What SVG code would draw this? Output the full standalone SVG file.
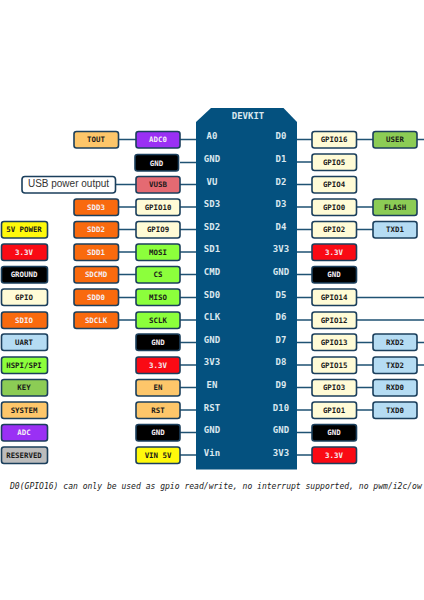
<svg xmlns="http://www.w3.org/2000/svg" width="424" height="600" viewBox="0 0 424 600">
<style>
rect.b{stroke:#1b3f5c;stroke-width:1.6;rx:2.5px;ry:2.5px}
text{font-family:"DejaVu Sans Mono","Liberation Mono",monospace;font-weight:700;font-size:7.4px;text-anchor:middle;dominant-baseline:central}
.d{fill:#1a1a1a}.w{fill:#f4eef4}
.c{fill:#dbe8ef;font-size:9px}
#connectors path{stroke:#1f5273;stroke-width:1.3;fill:none}
.y{fill:#fffbd6}.o{fill:#f96a0e}.g{fill:#8cff3c}.k{fill:#000}.r{fill:#fa0a14}.s{fill:#fdc66a}.u{fill:#b5dcf3}.e{fill:#8ccc55}.p{fill:#9a30f4}.v{fill:#fff90c}
</style>
<g id="connectors">
<path d="M118 139.5H136M180 139.5H197M180 162.5H197M116 184.5H136M180 184.5H197M118 207H136M180 207H197M118 229.5H136M180 229.5H197M118 252H136M180 252H197M118 274.5H136M180 274.5H197M118 297.5H136M180 297.5H197M118 320H136M180 320H197M180 342.5H197M180 365H197M180 387.5H197M180 410H197M180 432.5H197M180 455H197"/>
<path d="M296 139.5H312M357 139.5H373M417 139.5H424M296 162H312M296 184.5H312M296 207H312M357 207H373M296 229.5H312M357 229.5H373M296 252H312M296 274.5H312M296 297.5H312M357 297.5H424M296 320H312M357 320H424M296 342.5H312M357 342.5H373M417 342.5H424M296 365H312M357 365H373M417 365H424M296 387.5H312M357 387.5H373M296 410H312M357 410H373M296 432.5H312M296 455H312"/>
</g>
<g id="chip">
<path d="M196 122L211 108H283.500L297 122V469.500H196Z" fill="#04517f"/>
<text class="c" x="248" y="115.500">DEVKIT</text>
<text class="c" x="212" y="136">A0</text><text class="c" x="212" y="158.500">GND</text><text class="c" x="212" y="181.500">VU</text><text class="c" x="212" y="204">SD3</text><text class="c" x="212" y="226.500">SD2</text><text class="c" x="212" y="249">SD1</text><text class="c" x="212" y="271.500">CMD</text><text class="c" x="212" y="294.500">SD0</text><text class="c" x="212" y="317">CLK</text><text class="c" x="212" y="339.500">GND</text><text class="c" x="212" y="362">3V3</text><text class="c" x="212" y="385">EN</text><text class="c" x="212" y="407.500">RST</text><text class="c" x="212" y="430">GND</text><text class="c" x="212" y="452.500">Vin</text>
<text class="c" x="281" y="136">D0</text><text class="c" x="281" y="158.500">D1</text><text class="c" x="281" y="181.500">D2</text><text class="c" x="281" y="204">D3</text><text class="c" x="281" y="226.500">D4</text><text class="c" x="281" y="249">3V3</text><text class="c" x="281" y="271.500">GND</text><text class="c" x="281" y="294.500">D5</text><text class="c" x="281" y="317">D6</text><text class="c" x="281" y="339.500">D7</text><text class="c" x="281" y="362">D8</text><text class="c" x="281" y="385">D9</text><text class="c" x="281" y="407.500">D10</text><text class="c" x="281" y="430">GND</text><text class="c" x="281" y="452.500">3V3</text>
</g>
<g id="tout"><rect class="b s" x="74" y="131.500" width="44.500" height="16.500"/><text class="d" x="96" y="139">TOUT</text></g>
<g id="adc0"><rect class="b p" x="136" y="131.500" width="44" height="16.500"/><text class="w" x="158" y="139">ADC0</text></g>
<g id="gnd-l1"><rect class="b k" x="135" y="154.500" width="43.500" height="16.500"/><text class="w" x="156.500" y="163">GND</text></g>
<g id="usb"><rect x="22" y="176.500" width="93.500" height="16.500" rx="3" fill="#fff" stroke="#1b3f5c" stroke-width="1.600"/><text x="68.500" y="183.500" style="font-family:'Liberation Sans',Arial,sans-serif;font-weight:400;font-size:10px" fill="#333">USB power output</text></g>
<g id="vusb"><rect class="b" fill="#e46a72" x="136" y="176.500" width="44" height="16.500"/><text class="d" x="158" y="184.500">VUSB</text></g>
<g id="sdd3"><rect class="b o" x="74" y="199" width="44.500" height="16.500"/><text class="w" x="96" y="207">SDD3</text></g>
<g id="gpio10"><rect class="b y" x="136" y="199" width="44" height="16.500"/><text class="d" x="158" y="207">GPIO10</text></g>
<g id="sdd2"><rect class="b o" x="74" y="221.500" width="44.500" height="16.500"/><text class="w" x="96" y="229.500">SDD2</text></g>
<g id="gpio9"><rect class="b y" x="136" y="221.500" width="44" height="16.500"/><text class="d" x="158" y="229.500">GPIO9</text></g>
<g id="sdd1"><rect class="b o" x="74" y="244" width="44.500" height="16.500"/><text class="w" x="96" y="252">SDD1</text></g>
<g id="mosi"><rect class="b g" x="136" y="244" width="44" height="16.500"/><text class="d" x="158" y="252">MOSI</text></g>
<g id="sdcmd"><rect class="b o" x="74" y="266.500" width="44.500" height="16.500"/><text class="w" x="96" y="274.500">SDCMD</text></g>
<g id="cs"><rect class="b g" x="136" y="266.500" width="44" height="16.500"/><text class="d" x="158" y="274.500">CS</text></g>
<g id="sdd0"><rect class="b o" x="74" y="289" width="44.500" height="16.500"/><text class="w" x="96" y="297.500">SDD0</text></g>
<g id="miso"><rect class="b g" x="136" y="289" width="44" height="16.500"/><text class="d" x="158" y="297.500">MISO</text></g>
<g id="sdclk"><rect class="b o" x="74" y="312" width="44.500" height="16.500"/><text class="w" x="96" y="320">SDCLK</text></g>
<g id="sclk"><rect class="b g" x="136" y="312" width="44" height="16.500"/><text class="d" x="158" y="320">SCLK</text></g>
<g id="gnd-l2"><rect class="b k" x="136" y="334" width="44" height="16.500"/><text class="w" x="158" y="342.500">GND</text></g>
<g id="v33-l"><rect class="b r" x="136" y="357" width="44" height="16.500"/><text class="w" x="158" y="365">3.3V</text></g>
<g id="en"><rect class="b s" x="136" y="379.500" width="44" height="16.500"/><text class="d" x="158" y="387.500">EN</text></g>
<g id="rst"><rect class="b s" x="136" y="402" width="44" height="16.500"/><text class="d" x="158" y="410">RST</text></g>
<g id="gnd-l3"><rect class="b k" x="136" y="424.500" width="44" height="16.500"/><text class="w" x="158" y="432.500">GND</text></g>
<g id="vin"><rect class="b v" x="136" y="447" width="44" height="16.500"/><text class="d" x="158" y="455">VIN 5V</text></g>
<g id="gpio16"><rect class="b y" x="312" y="131.500" width="44.500" height="16.500"/><text class="d" x="334" y="139">GPIO16</text></g>
<g id="user"><rect class="b e" x="373" y="131.500" width="44" height="16.500"/><text class="d" x="395" y="139">USER</text></g>
<g id="gpio5"><rect class="b y" x="312" y="154" width="44.500" height="16.500"/><text class="d" x="334" y="162">GPIO5</text></g>
<g id="gpio4"><rect class="b y" x="312" y="176.500" width="44.500" height="16.500"/><text class="d" x="334" y="184.500">GPIO4</text></g>
<g id="gpio0"><rect class="b y" x="312" y="199" width="44.500" height="16.500"/><text class="d" x="334" y="207">GPIO0</text></g>
<g id="flash"><rect class="b e" x="373" y="199" width="44" height="16.500"/><text class="d" x="395" y="207">FLASH</text></g>
<g id="gpio2"><rect class="b y" x="312" y="221.500" width="44.500" height="16.500"/><text class="d" x="334" y="229.500">GPIO2</text></g>
<g id="txd1"><rect class="b u" x="373" y="221.500" width="44" height="16.500"/><text class="d" x="395" y="229.500">TXD1</text></g>
<g id="v33-r1"><rect class="b r" x="312" y="244" width="44.500" height="16.500"/><text class="w" x="334" y="252">3.3V</text></g>
<g id="gnd-r1"><rect class="b k" x="312" y="266.500" width="44.500" height="16.500"/><text class="w" x="334" y="274.500">GND</text></g>
<g id="gpio14"><rect class="b y" x="312" y="289" width="44.500" height="16.500"/><text class="d" x="334" y="297.500">GPIO14</text></g>
<g id="gpio12"><rect class="b y" x="312" y="312" width="44.500" height="16.500"/><text class="d" x="334" y="320">GPIO12</text></g>
<g id="gpio13"><rect class="b y" x="312" y="334" width="44.500" height="16.500"/><text class="d" x="334" y="342.500">GPIO13</text></g>
<g id="rxd2"><rect class="b u" x="373" y="334" width="44" height="16.500"/><text class="d" x="395" y="342.500">RXD2</text></g>
<g id="gpio15"><rect class="b y" x="312" y="357" width="44.500" height="16.500"/><text class="d" x="334" y="365">GPIO15</text></g>
<g id="txd2"><rect class="b u" x="373" y="357" width="44" height="16.500"/><text class="d" x="395" y="365">TXD2</text></g>
<g id="gpio3"><rect class="b y" x="312" y="379.500" width="44.500" height="16.500"/><text class="d" x="334" y="387.500">GPIO3</text></g>
<g id="rxd0"><rect class="b u" x="373" y="379.500" width="44" height="16.500"/><text class="d" x="395" y="387.500">RXD0</text></g>
<g id="gpio1"><rect class="b y" x="312" y="402" width="44.500" height="16.500"/><text class="d" x="334" y="410">GPIO1</text></g>
<g id="txd0"><rect class="b u" x="373" y="402" width="44" height="16.500"/><text class="d" x="395" y="410">TXD0</text></g>
<g id="gnd-r2"><rect class="b k" x="312" y="424.500" width="44.500" height="16.500"/><text class="w" x="334" y="432.500">GND</text></g>
<g id="v33-r2"><rect class="b r" x="312" y="447" width="44.500" height="16.500"/><text class="w" x="334" y="455">3.3V</text></g>
<g id="leg-5v"><rect class="b v" x="1.500" y="221.500" width="46" height="16.500"/><text class="d" x="24" y="229.500">5V POWER</text></g>
<g id="leg-33"><rect class="b r" x="1.500" y="244" width="46" height="16.500"/><text class="w" x="24" y="252">3.3V</text></g>
<g id="leg-gnd"><rect class="b k" x="1.500" y="266.500" width="46" height="16.500"/><text class="w" x="24" y="274.500">GROUND</text></g>
<g id="leg-gpio"><rect class="b y" x="1.500" y="289" width="46" height="16.500"/><text class="d" x="24" y="297.500">GPIO</text></g>
<g id="leg-sdio"><rect class="b o" x="1.500" y="312" width="46" height="16.500"/><text class="w" x="24" y="320">SDIO</text></g>
<g id="leg-uart"><rect class="b u" x="1.500" y="334" width="46" height="16.500"/><text class="d" x="24" y="342.500">UART</text></g>
<g id="leg-spi"><rect class="b g" x="1.500" y="357" width="46" height="16.500"/><text class="d" x="24" y="365">HSPI/SPI</text></g>
<g id="leg-key"><rect class="b e" x="1.500" y="379.500" width="46" height="16.500"/><text class="d" x="24" y="387.500">KEY</text></g>
<g id="leg-sys"><rect class="b s" x="1.500" y="402" width="46" height="16.500"/><text class="d" x="24" y="410">SYSTEM</text></g>
<g id="leg-adc"><rect class="b p" x="1.500" y="424.500" width="46" height="16.500"/><text class="w" x="24" y="432.500">ADC</text></g>
<g id="leg-res"><rect class="b" fill="#bcbcbc" x="1.500" y="447" width="46" height="16.500"/><text class="d" x="24" y="455">RESERVED</text></g>
<text x="10" y="486.500" style="font-weight:400;font-style:italic;font-size:8.050px;text-anchor:start" fill="#222">D0(GPIO16) can only be used as gpio read/write, no interrupt supported, no pwm/i2c/ow</text>
</svg>
